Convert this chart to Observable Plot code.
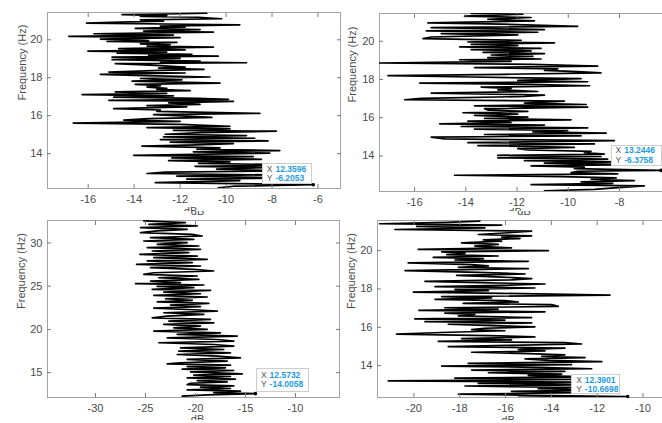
<!DOCTYPE html>
<html><head><meta charset="utf-8">
<script src="https://cdn.jsdelivr.net/npm/d3@7"></script>
<script src="https://cdn.jsdelivr.net/npm/@observablehq/plot@0.6"></script>
<style>
html,body{margin:0;padding:0;background:#fff;}
#root{position:relative;width:662px;height:423px;overflow:hidden;font-family:"Liberation Sans",Arial,sans-serif;background:#fff;}
.row{position:absolute;left:0;width:662px;overflow:hidden;}
.panel{position:absolute;top:0;}
.panel svg{max-width:none !important;}
.tip{position:absolute;box-sizing:border-box;background:#fff;border:1px solid #cdcdcd;font-size:8.5px;line-height:9.3px;padding:0 0 0 4px;white-space:nowrap;font-family:"Liberation Sans",Arial,sans-serif;}
.tip .k{color:#555;margin-right:3px;}
.tip .v{color:#1e9be0;font-weight:bold;}
</style></head><body>
<div id="root">
  <div class="row" id="rowTop" style="top:0;height:211px"></div>
  <div class="row" id="rowBottom" style="top:211px;height:209px"></div>
</div>
<script>
// ---------- data (frequency in Hz, level in dB) ----------
const freq1 = [21.40,21.36,21.33,21.28,21.23,21.19,21.11,21.05,20.98,20.93,20.88,20.82,20.79,20.72,20.67,20.60,20.54,20.46,20.40,20.32,20.25,20.18,20.11,20.04,19.96,19.91,19.86,19.79,19.74,19.67,19.61,19.53,19.47,19.40,19.35,19.30,19.23,19.18,19.14,19.09,19.02,18.95,18.88,18.84,18.79,18.74,18.65,18.56,18.51,18.44,18.39,18.30,18.25,18.18,18.11,18.04,17.96,17.89,17.82,17.72,17.65,17.58,17.51,17.44,17.39,17.32,17.25,17.18,17.11,17.04,16.98,16.91,16.86,16.81,16.75,16.68,16.60,16.53,16.46,16.37,16.30,16.23,16.12,16.05,15.98,15.91,15.84,15.77,15.70,15.61,15.54,15.44,15.37,15.30,15.23,15.18,15.11,15.02,14.95,14.88,14.81,14.74,14.67,14.60,14.53,14.46,14.39,14.30,14.23,14.16,14.09,14.02,13.91,13.84,13.77,13.70,13.63,13.56,13.49,13.40,13.33,13.26,13.18,13.09,13.02,12.95,12.88,12.81,12.72,12.65,12.58,12.47,12.3596,12.28,12.19];
const db1 = [-10.84,-12.65,-14.53,-12.58,-13.73,-11.20,-10.19,-13.73,-12.72,-14.60,-16.07,-11.71,-9.40,-12.86,-11.78,-13.95,-11.13,-13.59,-10.55,-15.75,-12.29,-16.84,-12.00,-15.47,-13.37,-15.18,-12.14,-13.73,-12.43,-13.44,-10.55,-14.67,-11.78,-16.01,-12.58,-14.74,-11.49,-13.37,-10.34,-14.96,-12.00,-14.96,-11.13,-12.86,-9.11,-14.82,-13.08,-11.78,-12.94,-10.96,-12.86,-15.10,-11.78,-15.47,-13.59,-10.70,-13.73,-11.92,-14.09,-10.26,-13.95,-12.86,-13.44,-12.58,-13.01,-11.56,-14.82,-12.58,-16.26,-12.29,-14.89,-11.20,-9.90,-15.10,-9.68,-12.50,-11.13,-13.44,-11.71,-14.89,-12.86,-13.01,-8.53,-13.15,-11.71,-10.62,-13.37,-14.45,-12.00,-16.65,-12.00,-9.83,-13.44,-9.83,-12.29,-7.81,-11.13,-12.65,-9.11,-12.72,-8.75,-12.86,-8.17,-12.43,-9.68,-11.27,-13.66,-10.26,-11.27,-7.66,-11.42,-8.10,-14.02,-8.82,-12.36,-8.46,-12.50,-9.83,-11.20,-6.72,-11.35,-8.24,-10.41,-7.08,-12.65,-13.44,-8.24,-12.14,-7.08,-11.71,-9.40,-13.08,-6.2053,-9.68,-10.34];

const freq2 = [21.45,21.41,21.31,21.24,21.15,21.06,20.96,20.89,20.78,20.71,20.61,20.54,20.47,20.40,20.33,20.22,20.14,20.05,19.96,19.91,19.84,19.77,19.70,19.63,19.56,19.49,19.42,19.35,19.28,19.21,19.14,19.07,19.03,18.95,18.86,18.79,18.70,18.62,18.55,18.48,18.41,18.34,18.27,18.20,18.13,18.04,17.95,17.88,17.81,17.74,17.67,17.60,17.53,17.46,17.37,17.29,17.18,17.11,17.01,16.94,16.87,16.76,16.69,16.62,16.55,16.47,16.40,16.33,16.26,16.19,16.12,16.03,15.96,15.89,15.82,15.75,15.68,15.61,15.54,15.47,15.40,15.33,15.26,15.19,15.12,15.05,14.98,14.89,14.80,14.70,14.63,14.54,14.45,14.38,14.31,14.24,14.17,14.10,14.03,13.97,13.90,13.83,13.76,13.69,13.62,13.55,13.48,13.41,13.34,13.2446,13.20,13.13,13.06,12.99,12.92,12.85,12.78,12.71,12.64,12.57,12.50,12.43,12.32,12.25,12.18];
const db2 = [-13.79,-11.77,-14.05,-11.45,-13.14,-11.32,-15.48,-12.62,-9.63,-15.35,-10.93,-15.54,-11.19,-14.96,-11.97,-15.35,-15.67,-11.84,-13.92,-10.54,-13.79,-11.97,-14.24,-11.06,-13.79,-11.45,-13.33,-10.93,-13.01,-11.38,-13.14,-11.06,-14.24,-12.23,-17.37,-11.45,-8.85,-13.66,-10.41,-10.93,-9.63,-8.72,-12.49,-17.04,-13.79,-9.50,-11.97,-9.24,-15.80,-11.45,-9.17,-13.40,-12.23,-12.75,-11.19,-15.35,-10.93,-11.71,-15.74,-16.39,-10.15,-11.71,-9.30,-13.66,-9.24,-13.27,-13.14,-11.58,-14.11,-11.97,-13.66,-11.58,-13.27,-9.89,-13.92,-12.23,-15.02,-10.93,-14.18,-9.24,-13.66,-10.02,-11.38,-8.52,-13.27,-9.50,-15.35,-14.83,-8.20,-13.92,-8.98,-13.53,-9.76,-11.97,-11.58,-9.11,-9.37,-8.59,-12.75,-8.72,-12.75,-8.46,-11.71,-8.07,-10.93,-7.55,-11.45,-9.37,-9.76,-6.3758,-9.63,-9.89,-8.07,-14.44,-10.28,-8.13,-9.11,-7.42,-9.50,-8.26,-11.45,-7.03,-8.33,-8.98,-10.93];

const freq3 = [32.55,32.36,32.16,31.97,31.78,31.58,31.39,31.20,31.00,30.81,30.62,30.42,30.23,30.04,29.85,29.65,29.46,29.27,29.07,28.88,28.69,28.49,28.30,28.11,27.92,27.72,27.53,27.34,27.14,26.95,26.76,26.56,26.37,26.18,25.98,25.79,25.60,25.41,25.29,25.14,24.98,24.83,24.63,24.52,24.32,24.13,23.94,23.75,23.55,23.36,23.20,23.01,22.82,22.63,22.47,22.28,22.12,21.93,21.74,21.54,21.35,21.16,20.97,20.77,20.58,20.39,20.19,20.00,19.81,19.61,19.42,19.23,19.03,18.84,18.65,18.46,18.26,18.07,17.88,17.68,17.49,17.30,17.10,16.91,16.72,16.53,16.33,16.14,16.02,15.87,15.71,15.56,15.41,15.25,15.10,14.86,14.71,14.56,14.40,14.25,14.09,13.94,13.78,13.63,13.47,13.32,13.17,13.01,12.86,12.70,12.5732,12.43,12.28];
const db3 = [-25.17,-21.00,-24.67,-19.83,-25.50,-20.83,-23.83,-25.50,-20.33,-19.33,-24.50,-20.17,-25.17,-20.83,-23.83,-19.67,-24.83,-19.50,-24.33,-20.67,-25.57,-19.83,-24.17,-18.83,-24.83,-20.33,-25.90,-19.50,-24.50,-20.17,-18.17,-24.17,-25.17,-19.83,-23.67,-19.67,-24.50,-21.50,-26.00,-19.17,-23.83,-20.17,-24.33,-18.50,-23.17,-19.50,-24.17,-18.83,-23.00,-20.33,-23.83,-18.67,-22.50,-19.50,-24.17,-20.17,-17.83,-23.17,-19.17,-22.83,-24.33,-18.50,-22.67,-18.17,-23.17,-19.50,-22.17,-18.83,-24.17,-17.50,-21.83,-15.83,-22.83,-17.83,-16.17,-23.67,-18.17,-16.17,-21.50,-17.17,-21.67,-16.50,-21.83,-17.83,-15.50,-20.83,-16.83,-21.50,-22.83,-16.50,-20.83,-17.00,-21.33,-16.17,-20.50,-15.33,-20.17,-16.50,-20.83,-16.00,-19.83,-16.83,-20.50,-20.83,-16.17,-19.50,-16.50,-20.83,-15.50,-18.17,-14.0058,-18.83,-21.33];

const freq4 = [21.54,21.47,21.40,21.33,21.26,21.19,21.10,21.02,20.93,20.84,20.77,20.70,20.63,20.56,20.49,20.40,20.32,20.23,20.14,20.06,20.00,19.93,19.86,19.79,19.72,19.65,19.58,19.51,19.44,19.36,19.27,19.20,19.13,19.06,18.96,18.87,18.78,18.71,18.62,18.54,18.47,18.40,18.33,18.26,18.19,18.12,18.05,17.98,17.91,17.84,17.77,17.68,17.60,17.53,17.46,17.39,17.32,17.25,17.18,17.09,17.02,16.95,16.88,16.81,16.74,16.67,16.60,16.51,16.44,16.37,16.30,16.23,16.16,16.09,16.02,15.95,15.88,15.82,15.73,15.64,15.57,15.50,15.41,15.34,15.27,15.20,15.13,15.06,14.99,14.91,14.84,14.77,14.70,14.63,14.56,14.49,14.42,14.35,14.28,14.21,14.12,14.05,13.98,13.91,13.84,13.77,13.70,13.63,13.56,13.49,13.42,13.35,13.28,13.21,13.14,13.08,13.01,12.94,12.87,12.80,12.73,12.66,12.59,12.52,12.45,12.3901,12.35];
const db4 = [-17.12,-18.57,-21.50,-16.17,-19.88,-16.90,-20.83,-14.86,-15.88,-17.19,-14.86,-16.17,-15.37,-16.97,-16.17,-17.92,-16.32,-17.34,-15.74,-19.81,-14.13,-18.79,-17.77,-18.57,-16.32,-19.16,-16.97,-18.21,-15.01,-20.25,-17.48,-16.75,-18.06,-15.01,-20.39,-17.19,-15.15,-18.14,-16.17,-14.86,-15.74,-19.52,-17.19,-14.28,-16.17,-19.08,-14.72,-18.21,-16.75,-20.03,-16.17,-11.44,-18.79,-16.61,-19.08,-16.03,-15.44,-17.85,-13.99,-13.70,-18.65,-16.32,-19.78,-14.28,-18.65,-17.34,-18.06,-14.86,-19.96,-16.03,-19.52,-14.86,-18.50,-16.61,-14.72,-16.90,-17.48,-16.03,-18.79,-20.76,-16.75,-14.72,-17.92,-15.74,-18.94,-13.41,-12.68,-15.88,-18.50,-13.41,-15.44,-14.28,-17.48,-15.01,-13.41,-14.42,-12.53,-15.15,-14.13,-11.80,-17.63,-13.12,-18.79,-14.57,-12.24,-17.48,-13.41,-16.75,-13.55,-15.01,-12.24,-18.21,-12.53,-21.12,-13.12,-17.19,-11.94,-17.77,-13.12,-14.57,-11.94,-15.74,-12.68,-18.06,-14.86,-10.6698,-15.44];

// data tips (X = frequency, Y = dB in the original MATLAB data tips)
const tipFreq = [12.3596, 13.2446, 12.5732, 12.3901];
const tipDb = [-6.2053, -6.3758, -14.0058, -10.6698];

// tick labels
const xTicks1 = [-16, -14, -12, -10, -8, -6];
const yTicks1 = [14, 16, 18, 20];
const xTicks2 = [-16, -14, -12, -10, -8];
const yTicks2 = [14, 16, 18, 20];
const xTicks3 = [-30, -25, -20, -15, -10];
const yTicks3 = [15, 20, 25, 30];
const xTicks4 = [-20, -18, -16, -14, -12, -10];
const yTicks4 = [14, 16, 18, 20];

const xLabel = "dB";
const yLabel = "Frequency (Hz)";

// ---------- layout ----------
const panels = [
  {row: "rowTop", left: 0, width: 345, height: 230, mL: 47, mR: 5, mT: 12, mB: 42,
   xDomain: [-17.77, -5.02], yDomain: [12.16, 21.44], freq: freq1, db: db1, xTicks: xTicks1, yTicks: yTicks1,
   labDx: -3.5, labDy: 19, yLabDx: -25, remnant: null, tipOff: [-51, -21], tipSize: [50, 21]},
  {row: "rowTop", left: 330, width: 347, height: 232, mL: 49, mR: 5, mT: 13, mB: 41,
   xDomain: [-17.37, -5.93], yDomain: [12.14, 21.45], freq: freq2, db: db2, xTicks: xTicks2, yTicks: yTicks2,
   labDx: -11, labDy: 17, yLabDx: -27, remnant: null, tipOff: [-50, -25], tipSize: [51, 21]},
  {row: "rowBottom", left: 0, width: 344, height: 230, mL: 47, mR: 5, mT: 9, mB: 44,
   xDomain: [-34.8, -5.6], yDomain: [12.13, 32.6], freq: freq3, db: db3, xTicks: xTicks3, yTicks: yTicks3,
   labDx: 4, labDy: 18, yLabDx: -26, remnant: [4, -13], tipOff: [1, -25], tipSize: [53, 24]},
  {row: "rowBottom", left: 330, width: 345, height: 230, mL: 47, mR: 5, mT: 9, mB: 44,
   xDomain: [-21.59, -8.8], yDomain: [12.34, 21.57], freq: freq4, db: db4, xTicks: xTicks4, yTicks: yTicks4,
   labDx: -16, labDy: 19, yLabDx: -26, remnant: [0, -13], tipOff: [-56, -22], tipSize: [49, 20]}
];

const textColor = "#4a4a4a";
const tickColor = "#7a7a7a";

panels.forEach((p, i) => {
  const data = p.freq.map((f, j) => ({f, d: p.db[j]}));
  const tip = [{f: tipFreq[i], d: tipDb[i]}];
  const marks = [
    Plot.frame({stroke: "#a3a3a3", strokeWidth: 1}),
    Plot.line(data, {x: "d", y: "f", stroke: "black", strokeWidth: 1.7, clip: true}),
    Plot.dot(tip, {x: "d", y: "f", r: 1.8, fill: "black"}),
    // inward ticks on all four sides (MATLAB box style)
    Plot.axisX(p.xTicks, {anchor: "bottom", tickSize: 4, dy: -4, tickFormat: () => "", label: null, stroke: tickColor}),
    Plot.axisX(p.xTicks, {anchor: "top", tickSize: 4, dy: 4, tickFormat: () => "", label: null, stroke: tickColor}),
    Plot.axisY(p.yTicks, {anchor: "left", tickSize: 4, dx: 4, tickFormat: () => "", label: null, stroke: tickColor}),
    Plot.axisY(p.yTicks, {anchor: "right", tickSize: 4, dx: -4, tickFormat: () => "", label: null, stroke: tickColor}),
    // tick labels
    Plot.axisX(p.xTicks, {anchor: "bottom", tickSize: 0, tickPadding: 7, tickFormat: d => String(d), label: null, fill: textColor, fontSize: 11}),
    Plot.axisY(p.yTicks, {anchor: "left", tickSize: 0, tickPadding: 5, tickFormat: d => String(d), label: null, fill: textColor, fontSize: 11}),
    // axis titles
    Plot.text([xLabel], {frameAnchor: "bottom", lineAnchor: "top", dx: p.labDx, dy: p.labDy, fill: textColor, fontSize: 11}),
    Plot.text([yLabel], {frameAnchor: "left", rotate: -90, dx: p.yLabDx, fill: textColor, fontSize: 11})
  ];
  if (p.remnant) {
    marks.push(Plot.text([xLabel], {frameAnchor: "top", lineAnchor: "top", dx: p.remnant[0], dy: p.remnant[1], fill: textColor, fontSize: 11}));
  }
  const plot = Plot.plot({
    width: p.width, height: p.height,
    marginLeft: p.mL, marginRight: p.mR, marginTop: p.mT, marginBottom: p.mB,
    x: {domain: p.xDomain, label: null},
    y: {domain: p.yDomain, label: null},
    style: {background: "transparent", fontFamily: "'Liberation Sans', Arial, sans-serif", fontSize: "11px", color: textColor, overflow: "visible", maxWidth: "none"},
    marks
  });
  plot.setAttribute("width", p.width);
  plot.setAttribute("height", p.height);
  plot.style.width = p.width + "px";
  plot.style.height = p.height + "px";
  const holder = document.createElement("div");
  holder.className = "panel";
  holder.style.left = p.left + "px";
  holder.style.width = p.width + "px";
  holder.style.height = p.height + "px";
  holder.appendChild(plot);
  const row = document.getElementById(p.row);
  row.appendChild(holder);

  // data tip box, anchored at the data point through the plot scales
  const px = plot.scale("x").apply(tipDb[i]);
  const py = plot.scale("y").apply(tipFreq[i]);
  const box = document.createElement("div");
  box.className = "tip";
  box.style.left = (p.left + px + p.tipOff[0]) + "px";
  box.style.top = (py + p.tipOff[1]) + "px";
  box.style.width = p.tipSize[0] + "px";
  box.style.height = p.tipSize[1] + "px";
  box.style.paddingTop = (p.tipSize[1] > 22 ? 2 : 0.5) + "px";
  box.innerHTML = `<div><span class="k">X</span><span class="v">${tipFreq[i].toFixed(4)}</span></div>` +
                  `<div><span class="k">Y</span><span class="v">${tipDb[i].toFixed(4)}</span></div>`;
  row.appendChild(box);
});
</script>
</body></html>
